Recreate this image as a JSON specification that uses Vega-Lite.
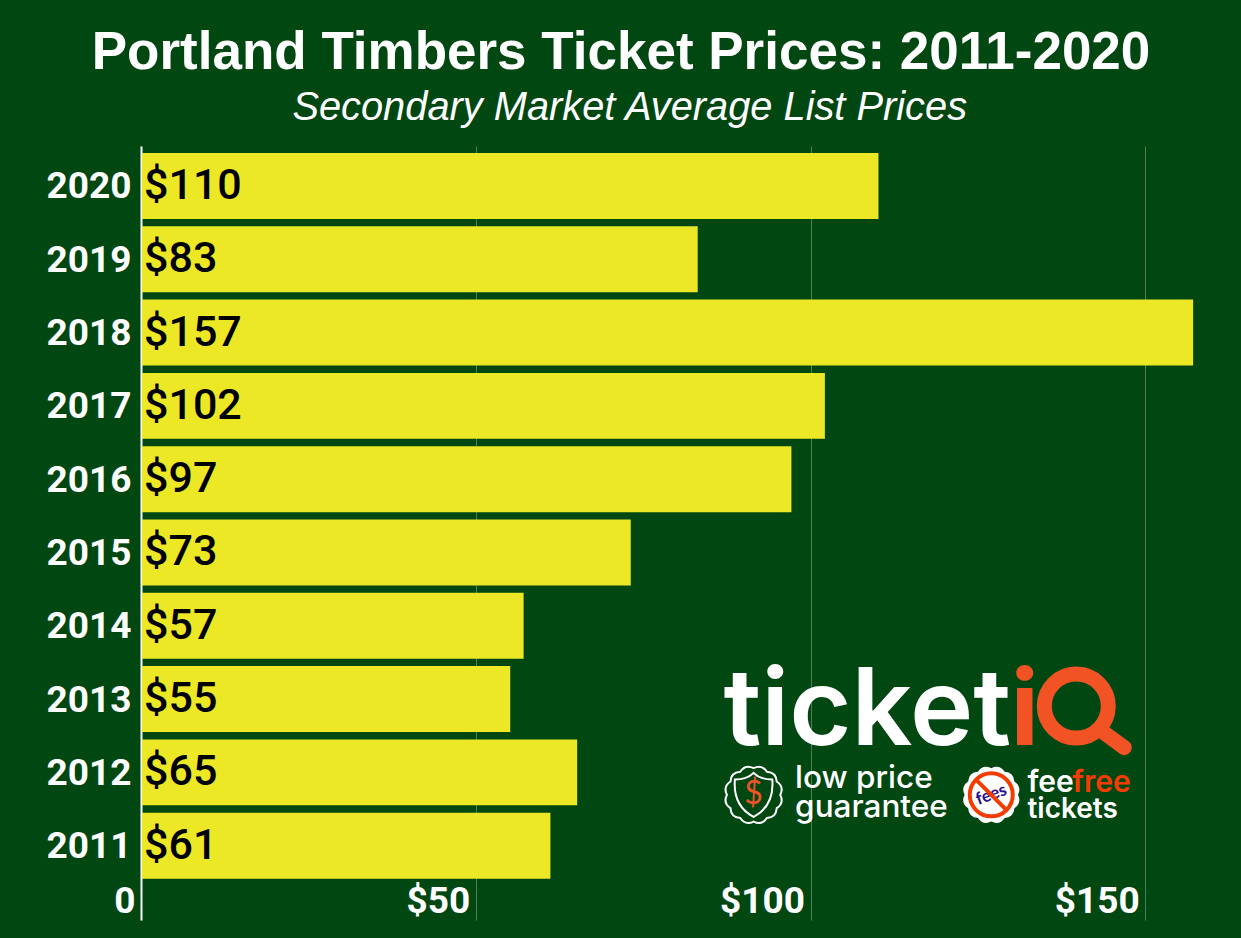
{
  "$schema": "https://vega.github.io/schema/vega-lite/v6.json",
  "width": 1100,
  "height": 774,
  "autosize": "none",
  "padding": {"left": 141, "top": 146, "right": 0, "bottom": 18},
  "background": "#004712",
  "title": {
    "text": "Portland Timbers Ticket Prices: 2011-2020",
    "anchor": "middle",
    "dx": -70,
    "offset": 8,
    "font": "Liberation Sans",
    "fontSize": 53,
    "fontWeight": "bold",
    "color": "white"
  },
  "config": {"view": {"stroke": null}},
  "data": {
    "values": [
      {"year": "2020", "price": 110},
      {"year": "2019", "price": 83},
      {"year": "2018", "price": 157},
      {"year": "2017", "price": 102},
      {"year": "2016", "price": 97},
      {"year": "2015", "price": 73},
      {"year": "2014", "price": 57},
      {"year": "2013", "price": 55},
      {"year": "2012", "price": 65},
      {"year": "2011", "price": 61}
    ]
  },
  "encoding": {
    "y": {
      "field": "year",
      "type": "ordinal",
      "title": null,
      "scale": {
        "domain": ["2020", "2019", "2018", "2017", "2016", "2015", "2014", "2013", "2012", "2011"],
        "paddingInner": 0.1,
        "paddingOuter": 0.33,
        "align": 0.145
      },
      "axis": {
        "ticks": false,
        "domainColor": "white",
        "domainWidth": 2,
        "labelColor": "white",
        "labelFont": "Roboto",
        "labelFontSize": 37,
        "labelFontWeight": "bold",
        "labelPadding": 10,
        "labelOffset": 1.5
      }
    },
    "x": {
      "field": "price",
      "type": "quantitative",
      "title": null,
      "scale": {"domain": [0, 164.3], "nice": false},
      "axis": {
        "values": [0, 50, 100, 150],
        "labelExpr": "datum.value == 0 ? '0' : '$' + datum.value",
        "ticks": false,
        "domain": false,
        "gridColor": "white",
        "gridOpacity": 0.3,
        "labelColor": "white",
        "labelFont": "Roboto",
        "labelFontSize": 37,
        "labelFontWeight": "bold",
        "labelAlign": "right",
        "labelBaseline": "middle",
        "labelPadding": -19,
        "labelOffset": -6,
        "labelFlush": false,
        "labelOverlap": false,
        "labelBound": false
      }
    }
  },
  "layer": [
    {"mark": {"type": "bar", "color": "#ece825", "xOffset": 1}},
    {
      "mark": {"type": "text", "align": "left", "baseline": "middle", "dx": 3, "font": "Roboto", "fontSize": 43, "fontWeight": 500, "color": "black"},
      "encoding": {
        "x": {"datum": 0, "type": "quantitative"},
        "text": {"field": "price", "type": "quantitative", "format": "$d"}
      }
    },
    {
      "transform": [{"filter": "datum.year == '2020'"}],
      "mark": {"type": "text", "align": "center", "baseline": "alphabetic", "dy": -66, "font": "Liberation Sans", "fontSize": 39.8, "fontStyle": "italic", "color": "white"},
      "encoding": {
        "x": {"datum": 73, "type": "quantitative"},
        "text": {"value": "Secondary Market Average List Prices"}
      }
    },
    {
      "transform": [{"filter": "datum.year == '2013'"}],
      "mark": {"type": "text", "align": "left", "baseline": "alphabetic", "dy": 46, "font": "Inter", "fontSize": 107, "fontWeight": 600, "color": "white"},
      "encoding": {
        "x": {"datum": 87, "type": "quantitative"},
        "text": {"value": "ticket"}
      }
    },
    {
      "transform": [{"filter": "datum.year == '2013'"}],
      "mark": {"type": "text", "align": "center", "baseline": "alphabetic", "dy": 46, "font": "Inter", "fontSize": 105, "fontWeight": 700, "color": "#f15324"},
      "encoding": {
        "x": {"datum": 132, "type": "quantitative"},
        "text": {"value": "i"}
      }
    },
    {
      "transform": [{"filter": "datum.year == '2013'"}],
      "mark": {"type": "point", "filled": false, "strokeWidth": 15, "strokeCap": "round", "color": "#f15324", "opacity": 1, "shape": "M-1,0A1,1,0,1,1,1,0A1,1,0,1,1,-1,0ZM0.75,0.75L1.5,1.3", "size": 4096, "yOffset": 7},
      "encoding": {
        "x": {"datum": 139.7, "type": "quantitative"}
      }
    },
    {
      "transform": [{"filter": "datum.year == '2012'"}],
      "mark": {"type": "text", "align": "left", "baseline": "alphabetic", "dy": 16, "font": "Inter", "fontSize": 31.5, "fontWeight": 500, "color": "white"},
      "encoding": {
        "x": {"datum": 97.7, "type": "quantitative"},
        "text": {"value": "low price"}
      }
    },
    {
      "transform": [{"filter": "datum.year == '2012'"}],
      "mark": {"type": "text", "align": "left", "baseline": "alphabetic", "dy": 45, "font": "Inter", "fontSize": 31.5, "fontWeight": 500, "color": "white"},
      "encoding": {
        "x": {"datum": 97.7, "type": "quantitative"},
        "text": {"value": "guarantee"}
      }
    },
    {
      "transform": [{"filter": "datum.year == '2012'"}],
      "mark": {"type": "text", "align": "left", "baseline": "alphabetic", "dy": 20, "font": "Inter", "fontSize": 30, "fontWeight": 600, "color": "white"},
      "encoding": {
        "x": {"datum": 132.4, "type": "quantitative"},
        "text": {"value": "fee"}
      }
    },
    {
      "transform": [{"filter": "datum.year == '2012'"}],
      "mark": {"type": "text", "align": "left", "baseline": "alphabetic", "dy": 20, "font": "Inter", "fontSize": 30, "fontWeight": 600, "color": "#f23c00"},
      "encoding": {
        "x": {"datum": 139.1, "type": "quantitative"},
        "text": {"value": "free"}
      }
    },
    {
      "transform": [{"filter": "datum.year == '2012'"}],
      "mark": {"type": "text", "align": "left", "baseline": "alphabetic", "dy": 46, "font": "Inter", "fontSize": 28, "fontWeight": 600, "color": "white"},
      "encoding": {
        "x": {"datum": 132.4, "type": "quantitative"},
        "text": {"value": "tickets"}
      }
    },
    {
      "transform": [{"filter": "datum.year == '2012'"}],
      "mark": {"type": "point", "filled": false, "strokeWidth": 2, "color": "white", "opacity": 1, "shape": "M.92,0Q1.06,.285,.797,.46Q.778,.778,.46,.797Q.285,1.06,0,.92Q-.285,1.06,-.46,.797Q-.778,.778,-.797,.46Q-1.06,.285,-.92,0Q-1.06,-.285,-.797,-.46Q-.778,-.778,-.46,-.797Q-.285,-1.06,0,-.92Q.285,-1.06,.46,-.797Q.778,-.778,.797,-.46Q1.06,-.285,.92,0Z", "size": 3364, "yOffset": 22.5},
      "encoding": {
        "x": {"datum": 91.5, "type": "quantitative"}
      }
    },
    {
      "transform": [{"filter": "datum.year == '2012'"}],
      "mark": {"type": "point", "filled": false, "strokeWidth": 2, "color": "white", "opacity": 1, "shape": "M-0.85,-0.7Q-0.3,-0.7,0,-1Q0.3,-0.7,0.85,-0.7Q0.95,0.5,0,1Q-0.95,0.5,-0.85,-0.7Z", "size": 1936, "yOffset": 22.5},
      "encoding": {
        "x": {"datum": 91.5, "type": "quantitative"}
      }
    },
    {
      "transform": [{"filter": "datum.year == '2012'"}],
      "mark": {"type": "text", "align": "center", "baseline": "middle", "dy": 22, "font": "Lato", "fontSize": 32, "color": "#f15324"},
      "encoding": {
        "x": {"datum": 91.5, "type": "quantitative"},
        "text": {"value": "$"}
      }
    },
    {
      "transform": [{"filter": "datum.year == '2012'"}],
      "mark": {"type": "point", "filled": true, "color": "white", "opacity": 1, "shape": "M.92,0Q1.06,.285,.797,.46Q.778,.778,.46,.797Q.285,1.06,0,.92Q-.285,1.06,-.46,.797Q-.778,.778,-.797,.46Q-1.06,.285,-.92,0Q-1.06,-.285,-.797,-.46Q-.778,-.778,-.46,-.797Q-.285,-1.06,0,-.92Q.285,-1.06,.46,-.797Q.778,-.778,.797,-.46Q1.06,-.285,.92,0Z", "size": 3364, "yOffset": 22.5},
      "encoding": {
        "x": {"datum": 127, "type": "quantitative"}
      }
    },
    {
      "transform": [{"filter": "datum.year == '2012'"}],
      "mark": {"type": "text", "align": "center", "baseline": "middle", "dx": -7.7, "dy": 21.1, "angle": 340, "font": "Lato", "fontSize": 17, "fontWeight": "bold", "color": "#2b0f8f"},
      "encoding": {
        "x": {"datum": 127, "type": "quantitative"},
        "text": {"value": "fees"}
      }
    },
    {
      "transform": [{"filter": "datum.year == '2012'"}],
      "mark": {"type": "point", "filled": false, "strokeWidth": 4, "color": "#f23c00", "opacity": 1, "shape": "M-1,0A1,1,0,1,1,1,0A1,1,0,1,1,-1,0ZM-0.7,-0.7L0.7,0.7", "size": 1849, "yOffset": 22.5},
      "encoding": {
        "x": {"datum": 127, "type": "quantitative"}
      }
    }
  ]
}
